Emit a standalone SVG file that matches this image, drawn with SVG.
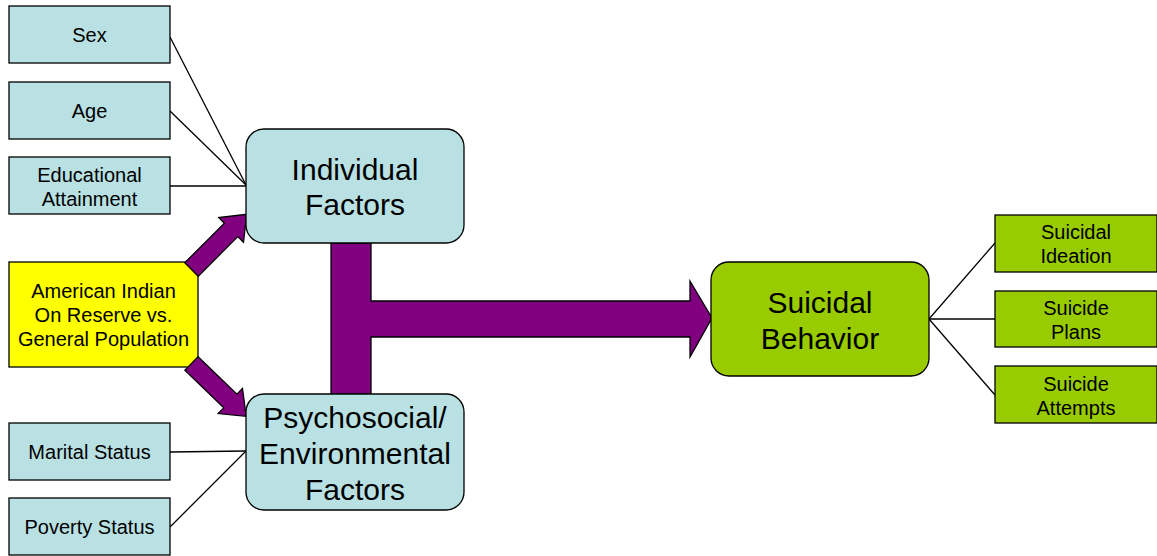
<svg xmlns="http://www.w3.org/2000/svg" width="1157" height="556" viewBox="0 0 1157 556">
<style>
.box{fill:#B9E0E3;stroke:#000;stroke-width:1.3}
.grn{fill:#99CC00;stroke:#000;stroke-width:1.3}
.yel{fill:#FFFF00;stroke:#000;stroke-width:1.3}
.arr{fill:#800080;stroke:#000;stroke-width:1.3;stroke-linejoin:miter}
.ln{stroke:#000;stroke-width:1.3;fill:none}
text{font-family:"Liberation Sans",Arial,sans-serif;fill:#000;text-anchor:middle}
.s{font-size:20px}
.b{font-size:30px}
</style>
<rect width="1157" height="556" fill="#fff"/>
<g id="connectors">
<line class="ln" x1="170" y1="37" x2="246" y2="185"/>
<line class="ln" x1="170" y1="111" x2="246" y2="185"/>
<line class="ln" x1="170" y1="186" x2="246" y2="186"/>
<line class="ln" x1="170" y1="452" x2="246" y2="451"/>
<line class="ln" x1="170" y1="527" x2="246" y2="451"/>
<line class="ln" x1="929" y1="319" x2="995" y2="243"/>
<line class="ln" x1="929" y1="319" x2="995" y2="319"/>
<line class="ln" x1="929" y1="319" x2="995" y2="395"/>
</g>
<g id="n-sex"><rect class="box" x="9" y="6" width="161" height="57"/><text class="s" x="89.5" y="42">Sex</text></g>
<g id="n-age"><rect class="box" x="9" y="82" width="161" height="57"/><text class="s" x="89.5" y="118">Age</text></g>
<g id="n-edu"><rect class="box" x="9" y="157" width="161" height="57"/><text class="s" x="89.5" y="182">Educational</text><text class="s" x="89.5" y="206">Attainment</text></g>
<g id="n-marital"><rect class="box" x="9" y="423" width="161" height="57"/><text class="s" x="89.5" y="459">Marital Status</text></g>
<g id="n-poverty"><rect class="box" x="9" y="498" width="161" height="57"/><text class="s" x="89.5" y="534">Poverty Status</text></g>
<g id="n-ai"><rect class="yel" x="9" y="262" width="189" height="105"/><text class="s" x="103.5" y="298">American Indian</text><text class="s" x="103.5" y="322">On Reserve vs.</text><text class="s" x="103.5" y="346">General Population</text></g>
<g id="arrows">
<path class="arr" transform="translate(191.5,269.5) rotate(-45)" d="M0,-9.5 L56,-9.5 L56,-17.5 L78,0 L56,17.5 L56,9.5 L0,9.5 Z"/>
<path class="arr" transform="translate(191.5,363.5) rotate(44)" d="M0,-9.5 L54,-9.5 L54,-17.5 L76,0 L54,17.5 L54,9.5 L0,9.5 Z"/>
<path class="arr" d="M331,243 L371,243 L371,301 L690,301 L690,281 L712,318 L690,357 L690,337 L371,337 L371,394 L331,394 Z"/>
</g>
<g id="n-individual"><rect class="box" x="246" y="129" width="218" height="114" rx="18"/><text class="b" x="355" y="180">Individual</text><text class="b" x="355" y="215">Factors</text></g>
<g id="n-psycho"><rect class="box" x="246" y="394" width="218" height="116" rx="18"/><text class="b" x="355" y="428">Psychosocial/</text><text class="b" x="355" y="464">Environmental</text><text class="b" x="355" y="500">Factors</text></g>
<g id="n-behavior"><rect class="grn" x="711" y="262" width="218" height="114" rx="18"/><text class="b" x="820" y="313">Suicidal</text><text class="b" x="820" y="349">Behavior</text></g>
<g id="n-ideation"><rect class="grn" x="995" y="215" width="162" height="57"/><text class="s" x="1076" y="239">Suicidal</text><text class="s" x="1076" y="263">Ideation</text></g>
<g id="n-plans"><rect class="grn" x="995" y="291" width="162" height="56"/><text class="s" x="1076" y="315">Suicide</text><text class="s" x="1076" y="339">Plans</text></g>
<g id="n-attempts"><rect class="grn" x="995" y="366" width="162" height="57"/><text class="s" x="1076" y="391">Suicide</text><text class="s" x="1076" y="415">Attempts</text></g>
</svg>
